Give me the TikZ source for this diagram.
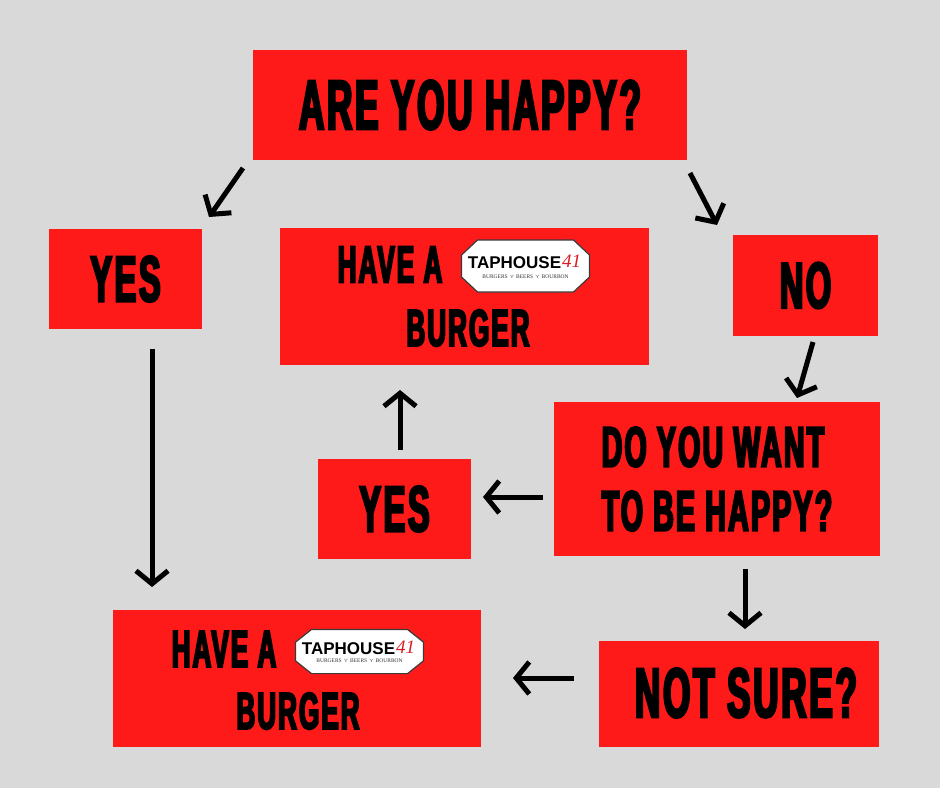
\documentclass[tikz,border=0pt]{standalone}
\usepackage{amssymb}
\usepackage{fontspec}
\setmainfont{Liberation Sans}
\newfontfamily\heavyfont{Liberation Sans}[FakeStretch=0.5,FakeBold=3.5,LetterSpace=4]
\newfontfamily\logoserif{Liberation Serif}
\usetikzlibrary{arrows.meta}

\definecolor{bggray}{HTML}{D9D9D9}
\definecolor{tapred}{HTML}{FF1A1A}
\definecolor{logored}{HTML}{D81E24}
\definecolor{logoline}{HTML}{3A3A3A}

% Taphouse logo: name, centre, vertical scale
\newcommand{\taplogo}[3]{%
  \begin{scope}[shift={#2}]
    \draw[logoline,line width=1.2pt,fill=white]
      (-48,-26*#3) -- (-64,-11*#3) -- (-64,11*#3) -- (-48,26*#3)
      -- (48,26*#3) -- (64,11*#3) -- (64,-11*#3) -- (48,-26*#3) -- cycle;
    \node[font=\bfseries\fontsize{17}{17}\selectfont,inner sep=0pt] (#1-name) at (-11,-3*#3) {TAPHOUSE};
    \node[logored,font=\logoserif\itshape\fontsize{19}{19}\selectfont,inner sep=0pt] (#1-num) at (46,-5*#3) {41};
    \node[black!80,font=\logoserif\fontsize{5.5}{5.5}\selectfont,inner sep=0pt] (#1-tag) at (0,11*#3) {BURGERS $\curlyvee$ BEERS $\curlyvee$ BOURBON};
  \end{scope}}

\begin{document}
\begin{tikzpicture}[x=1pt,y=-1pt,
    box/.style={fill=tapred,inner sep=0pt,font=\heavyfont\bfseries},
    label/.style={inner sep=0pt,font=\heavyfont\bfseries\fontsize{52}{52}\selectfont},
    arr/.style={line width=5pt,-{Straight Barb[length=13pt,width=32pt]}}]
  % Background
  \fill[bggray] (0,0) rectangle (940,788);

  % Question and answer boxes
  \node[box,minimum width=434pt,minimum height=110pt,font=\heavyfont\bfseries\fontsize{70}{70}\selectfont] (happy) at (470,105) {ARE YOU HAPPY?};
  \node[box,minimum width=153pt,minimum height=100pt,font=\heavyfont\bfseries\fontsize{65}{65}\selectfont] (yesA) at (125.5,279) {YES};
  \node[box,minimum width=145pt,minimum height=101pt,font=\heavyfont\bfseries\fontsize{65}{65}\selectfont] (no) at (805.5,285.5) {NO};
  \node[box,minimum width=326pt,minimum height=154pt,align=left,font=\heavyfont\bfseries\fontsize{57}{64}\selectfont] (want) at (717,479) {DO YOU WANT\\TO BE HAPPY?};
  \node[box,minimum width=153pt,minimum height=100pt,font=\heavyfont\bfseries\fontsize{65}{65}\selectfont] (yesB) at (394.5,509) {YES};
  \node[box,minimum width=280pt,minimum height=106pt] (notsure) at (739,694) {};
  \node[label,font=\heavyfont\bfseries\fontsize{70}{70}\selectfont] (notsure-text) at (746,693) {NOT SURE?};

  % Burger boxes
  \node[box,minimum width=369pt,minimum height=137pt] (burgA) at (464.5,296.5) {};
  \node[label] (burgA-have) at (390,264.5) {HAVE A};
  \node[label] (burgA-burger) at (468,328) {BURGER};
  \taplogo{logoA}{(525.5,266)}{1}

  \node[box,minimum width=368pt,minimum height=137pt] (burgB) at (297,678.5) {};
  \node[label] (burgB-have) at (224,649) {HAVE A};
  \node[label] (burgB-burger) at (298,711) {BURGER};
  \taplogo{logoB}{(359.5,651.5)}{0.85}

  % Arrow ends
  \coordinate (a1s) at (243,168);  \coordinate (a1e) at (209,217);
  \coordinate (a2s) at (690,173);  \coordinate (a2e) at (717,225);
  \coordinate (a3s) at (813,342);  \coordinate (a3e) at (797,398);
  \coordinate (a4s) at (543,497);  \coordinate (a4e) at (483,497);
  \coordinate (a5s) at (400,450);  \coordinate (a5e) at (400,390);
  \coordinate (a6s) at (745,569);  \coordinate (a6e) at (745,629);
  \coordinate (a7s) at (574,678);  \coordinate (a7e) at (513,678);
  \coordinate (a8s) at (152,349);  \coordinate (a8e) at (152,587);

  % Arrows
  \draw[arr] (a1s) -- (a1e);
  \draw[arr] (a2s) -- (a2e);
  \draw[arr] (a3s) -- (a3e);
  \draw[arr] (a4s) -- (a4e);
  \draw[arr] (a5s) -- (a5e);
  \draw[arr] (a6s) -- (a6e);
  \draw[arr] (a7s) -- (a7e);
  \draw[arr] (a8s) -- (a8e);
\end{tikzpicture}
\end{document}
